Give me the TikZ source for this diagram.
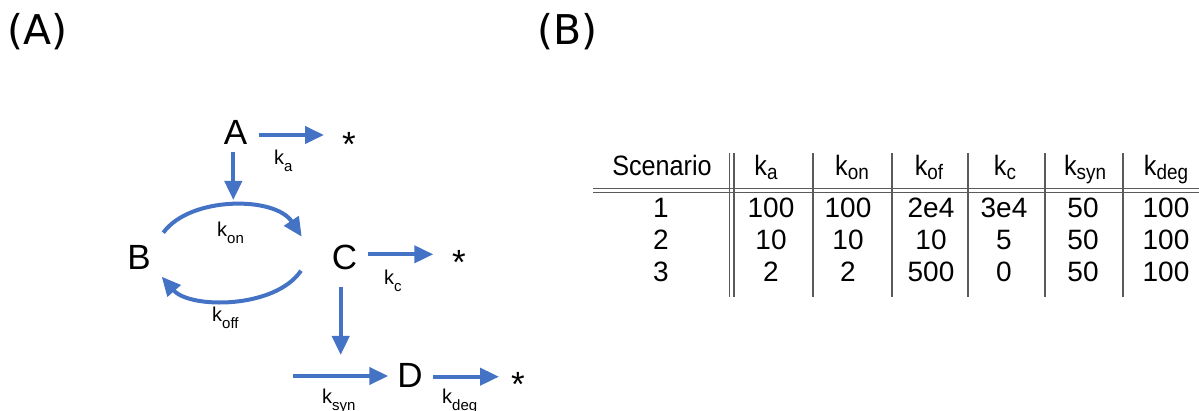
\documentclass[tikz,border=0pt]{standalone}
\usepackage{fontspec}
\setmainfont{Liberation Sans}
\newfontfamily\labfont{DejaVu Sans}
\newfontfamily\headfont[FakeStretch=0.9]{Liberation Sans}
\usetikzlibrary{arrows.meta,calc}
\definecolor{arrblue}{HTML}{4472C4}
\definecolor{rulegray}{HTML}{5A5A5A}
\newcommand\dk[1]{{\fontsize{20}{20}\selectfont k\raisebox{-7pt}{\fontsize{15}{15}\selectfont #1}}}
\newcommand\tk[1]{k\raisebox{-4pt}{\fontsize{21}{21}\selectfont #1}}
\tikzset{
  arr/.style={draw=arrblue, line width=4pt, -{Triangle[length=19pt,width=17pt]}},
  species/.style={inner sep=0pt, anchor=base, font=\fontsize{35}{35}\selectfont},
  starnode/.style={inner sep=0pt, anchor=base, font=\fontsize{35}{35}\selectfont},
  rate/.style={inner sep=0pt, anchor=base west},
  panel/.style={inner sep=0pt, anchor=base west, font=\labfont\fontsize{41}{41}\selectfont},
  thead/.style={inner sep=0pt, anchor=base, font=\headfont\fontsize{28}{28}\selectfont},
  tcell/.style={inner sep=0pt, anchor=base, font=\fontsize{28}{28}\selectfont},
  tline/.style={draw=rulegray, line width=1.4pt}
}
\begin{document}
\begin{tikzpicture}[x=1pt,y=-1pt]
\useasboundingbox (0,0) rectangle (1199,411);
% panel labels
\node[panel] (pA) at (7,45) {(A)};
\node[panel] (pB) at (537,45) {(B)};
% species
\node[species] (A) at (235.5,145) {A};
\node[species] (B) at (139,270) {B};
\node[species] (C) at (344.5,270) {C};
\node[species] (D) at (410,388) {D};
\node[starnode] (s1) at (349,157) {*};
\node[starnode] (s2) at (459,275) {*};
\node[starnode] (s3) at (518,396) {*};
% free ends
\coordinate (aDown) at (233.3,200);
\coordinate (cDown) at (340.7,355);
\coordinate (synIn) at (292.7,376);
% arrows
\draw[arr] ($(A.base)+(23.8,-10)$) -- ($(s1.base)+(-25,-22)$);
\draw[arr] ($(A.base)+(-2.2,6.7)$) -- (aDown);
\draw[arr] ($(B.base)+(24.3,-37.3)$) .. controls (190,196) and (275,196) .. ($(C.base)+(-42.8,-33.3)$);
\draw[arr] ($(C.base)+(-43.5,0.7)$) .. controls (275,309) and (190,309) .. ($(B.base)+(22.7,6.7)$);
\draw[arr] ($(C.base)+(23.8,-15.7)$) -- ($(s2.base)+(-25.7,-20.7)$);
\draw[arr] ($(C.base)+(-3.8,16.7)$) -- (cDown);
\draw[arr] (synIn) -- ($(D.base)+(-21.7,-12)$);
\draw[arr] ($(D.base)+(23.3,-11.3)$) -- ($(s3.base)+(-19,-19.3)$);
% rate labels
\node[rate] (lka) at (274,165) {\dk{a}};
\node[rate] (lkon) at (217,237) {\dk{on}};
\node[rate] (lkoff) at (212,322) {\dk{off}};
\node[rate] (lkc) at (384,285) {\dk{c}};
\node[rate] (lksyn) at (322,403) {\dk{syn}};
\node[rate] (lkdeg) at (442,403) {\dk{deg}};
% table rules
\draw[tline] (593,188.3) -- (1199,188.3);
\draw[tline] (593,192.7) -- (1199,192.7);
\foreach \vx in {729.3,734,813,892,968,1045,1123}{
  \draw[tline] (\vx,153) -- (\vx,297);
}
% table header
\node[thead] (h0) at (662,176) {Scenario};
\node[thead] (h1) at (766,176) {\tk{a}};
\node[thead] (h2) at (852,176) {\tk{on}};
\node[thead] (h3) at (929,176) {\tk{of}};
\node[thead] (h4) at (1005,176) {\tk{c}};
\node[thead] (h5) at (1085,176) {\tk{syn}};
\node[thead] (h6) at (1166,176) {\tk{deg}};
% table body
\node[tcell] (r1c0) at (661,218) {1};
\node[tcell] (r1c1) at (771,218) {100};
\node[tcell] (r1c2) at (848,218) {100};
\node[tcell] (r1c3) at (931,218) {2e4};
\node[tcell] (r1c4) at (1004,218) {3e4};
\node[tcell] (r1c5) at (1083,218) {50};
\node[tcell] (r1c6) at (1166,218) {100};
\node[tcell] (r2c0) at (661,250) {2};
\node[tcell] (r2c1) at (771,250) {10};
\node[tcell] (r2c2) at (848,250) {10};
\node[tcell] (r2c3) at (931,250) {10};
\node[tcell] (r2c4) at (1004,250) {5};
\node[tcell] (r2c5) at (1083,250) {50};
\node[tcell] (r2c6) at (1166,250) {100};
\node[tcell] (r3c0) at (661,282) {3};
\node[tcell] (r3c1) at (771,282) {2};
\node[tcell] (r3c2) at (848,282) {2};
\node[tcell] (r3c3) at (931,282) {500};
\node[tcell] (r3c4) at (1004,282) {0};
\node[tcell] (r3c5) at (1083,282) {50};
\node[tcell] (r3c6) at (1166,282) {100};
\end{tikzpicture}
\end{document}
